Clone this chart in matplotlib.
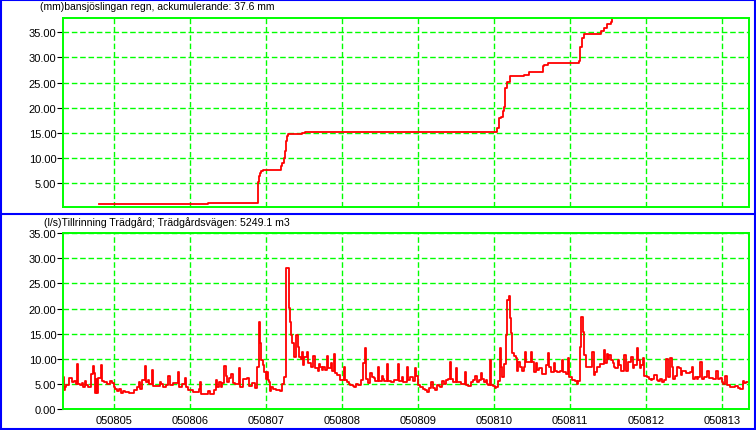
import matplotlib
matplotlib.use("Agg")
import matplotlib.pyplot as plt
from matplotlib.lines import Line2D

plt.rcParams['font.family'] = ['Liberation Sans', 'DejaVu Sans']
plt.rcParams['font.size'] = 8

# ---- data (time in hours since 050804 00:00) ----
rain_title = "(mm)bansjöslingan regn, ackumulerande: 37.6 mm"
flow_title = "(l/s)Tillrinning Trädgård; Trädgårdsvägen: 5249.1 m3"

rain_t = [19.2, 53.6, 69.5, 69.8, 70.0, 70.4, 71.0, 76.6, 77.2, 77.6, 77.9, 78.2,
          78.5, 78.9, 83.5, 84.2, 144.8, 145.6, 146.3, 146.7, 147.1, 147.4, 147.6,
          148.0, 148.9, 153.5, 155.1, 159.5, 159.8, 161.1, 170.7, 171.1, 171.7,
          171.9, 172.3, 177.7, 178.6, 179.6, 180.8, 181.2]
rain_v = [0.8, 1.0, 5.2, 6.3, 7.0, 7.4, 7.6, 8.4, 8.9, 10.0, 11.4, 13.3,
          14.3, 14.8, 15.0, 15.2, 15.9, 17.9, 18.1, 19.3, 20.2, 22.6, 23.9,
          25.2, 26.3, 26.5, 27.2, 28.2, 28.5, 28.8, 29.2, 32.0, 33.0,
          33.9, 34.6, 35.3, 35.9, 36.6, 37.1, 37.6]

flow_t = [8.0, 8.3, 8.5, 8.85, 9.8, 10.85, 11.48, 11.9, 12.32, 12.74, 13.27, 13.8,
          14.11, 14.85, 15.06, 15.9, 16.75, 17.27, 17.8, 18.12, 18.43, 18.75, 19.06,
          19.9, 20.32, 20.96, 21.91, 22.75, 23.27, 24.01, 24.33, 24.96, 25.7, 26.22,
          26.75, 27.49, 28.75, 30.43, 31.28, 32.01, 32.22, 32.96, 33.8, 34.23, 34.75,
          35.07, 35.91, 36.33, 37.49, 38.54, 38.86, 39.39, 40.44, 41.18, 41.81, 42.76,
          43.6, 44.12, 44.55, 45.39, 46.44, 46.86, 47.49, 48.86, 50.86, 51.07,
          51.38, 51.59, 53.69, 54.22, 55.59, 56.33, 56.64, 57.17, 57.9, 58.22, 58.75,
          59.27, 59.69, 60.33, 60.96, 61.59, 62.22, 63.48, 63.91, 64.75, 66.12, 66.64,
          67.7, 68.64, 69.28, 69.8, 70.12, 70.54, 70.96, 71.38, 71.91, 72.22, 72.54,
          72.86, 73.17, 73.7, 74.23, 75.28, 76.33, 77.17, 77.59, 78.23, 78.44, 79.28,
          79.7, 80.02, 80.33, 80.75, 81.59, 82.02, 82.33, 82.97, 83.28, 83.7, 84.02,
          84.97, 85.28, 86.12, 86.86, 87.39, 88.44, 88.65, 88.97, 89.6, 90.02, 90.65,
          91.28, 91.7, 92.44, 92.86, 93.49, 93.91, 94.55,
          95.49, 96.55, 96.97, 97.6, 98.12, 98.65, 99.39, 99.91, 100.44, 101.18,
          102.02, 102.65, 103.18, 103.71, 104.13, 104.86, 105.49, 106.02, 106.44,
          107.29, 107.81, 108.55, 108.87, 109.39, 110.13, 110.66, 111.5, 112.34,
          113.6, 114.13, 114.97, 115.39, 116.45, 116.97, 117.61, 118.45, 119.08,
          119.5, 120.03, 120.66, 121.5, 122.24, 122.87, 123.5, 124.24, 124.66,
          125.29, 126.03, 126.56, 127.08, 127.61, 128.14, 128.87, 129.4, 130.03,
          130.45, 130.98, 131.93, 132.35, 133.61, 134.77, 135.19, 135.93, 136.77,
          137.3, 138.14, 138.56,
          139.28, 139.81, 140.34, 140.86, 141.6, 141.92, 142.23, 142.76, 143.18,
          143.71, 144.34, 144.76, 145.39, 145.92, 146.34, 146.65, 147.18, 147.71,
          148.02, 148.65, 149.18, 149.5, 149.81, 150.34, 150.86, 151.18, 151.6,
          152.23, 152.76, 153.39, 153.81, 154.23, 155.6, 156.13, 156.66, 157.18,
          157.71, 158.24, 159.29, 160.55, 160.97, 161.4, 161.92, 162.87, 163.29,
          164.03, 164.76, 165.4, 165.82, 166.66, 167.4, 167.82, 168.24, 168.76,
          169.61, 170.14, 170.66, 171.08, 171.5, 172.03, 172.45, 172.98, 174.98,
          175.4, 175.93, 176.66, 177.4, 178.56, 178.98, 179.51, 179.93, 180.35,
          180.98, 181.4, 181.93,
          182.22, 183.07, 183.59, 184.12, 185.17, 185.7, 186.22, 187.28, 187.8,
          188.33, 189.07, 189.59, 190.12, 190.44, 190.96, 191.38, 192.23, 192.96,
          193.49, 194.02, 194.65, 195.39, 195.91, 196.44, 196.97, 197.7, 198.33,
          198.86, 199.6, 200.12, 200.65, 201.18, 201.7, 202.44, 203.07, 203.49,
          204.55, 205.92, 206.44, 206.97, 207.49, 208.02, 208.55, 209.07, 209.6,
          210.13, 211.18, 211.92, 213.08, 214.13, 214.55, 215.39, 215.92, 216.44,
          216.97, 217.5, 218.55, 219.08, 220.13, 220.97, 221.71, 222.55, 222.97,
          223.5, 224.13]
flow_v = [6.4, 3.9, 4.4, 4.9, 6.2, 5.4, 5.7, 5.1, 8.9, 5.1, 4.9, 5.3,
          4.5, 5.6, 4.9, 4.4, 7.1, 8.6, 7.3, 3.2, 6.1, 3.2, 6.2,
          8.7, 5.6, 5.4, 5.1, 5.6, 5.3, 4.4, 4.1, 3.7, 4.1, 3.2,
          3.7, 3.5, 3.2, 3.9, 4.4, 5.4, 4.1, 5.9, 8.6, 5.4, 5.9,
          5.1, 7.9, 4.7, 4.6, 5.5, 5.1, 4.4, 4.9, 6.6, 4.9, 5.3,
          5.2, 7.4, 4.4, 5.1, 6.2, 4.5, 3.9, 3.4, 4.1, 5.5,
          3.2, 3.1, 3.6, 3.1, 3.9, 5.9, 4.5, 5.4, 4.5, 5.3, 8.6,
          6.7, 5.4, 6.2, 7.1, 5.2, 5.1, 8.2, 4.5, 6.1, 6.2, 4.7,
          5.2, 4.2, 8.4, 17.4, 13.1, 9.7, 8.7, 7.4, 6.1, 7.4, 5.9,
          5.4, 3.7, 4.4, 4.1, 3.9, 3.7, 5.1, 6.4, 10.7, 28.1, 20.1,
          17.4, 14.7, 13.1, 10.4, 14.7, 12.4, 10.4, 9.9, 11.3, 8.7, 10.4,
          11.4, 9.1, 8.4, 10.5, 8.1, 7.7, 8.9, 8.4, 7.9, 8.4, 7.9,
          10.5, 8.1, 9.2, 7.7, 10.9, 7.3, 6.9,
          5.9, 8.4, 5.9, 5.4, 5.1, 4.9, 4.7, 4.4, 5.1, 4.9,
          5.9, 9.2, 12.1, 6.1, 5.2, 7.2, 6.5, 6.2, 5.7,
          8.4, 5.7, 6.6, 6.1, 5.7, 8.9, 5.7, 5.4, 5.9,
          8.9, 5.7, 6.4, 5.5, 8.4, 5.9, 6.4, 5.7, 8.2,
          6.7, 4.9, 4.4, 4.1, 3.9, 3.5, 4.2, 5.5, 4.2,
          3.9, 4.9, 4.7, 4.4, 5.7, 5.1, 5.9, 6.1, 9.3,
          6.1, 5.5, 8.1, 5.5, 5.1, 7.5, 4.9, 4.7, 5.4,
          5.9, 6.7, 5.5,
          5.9, 7.2, 6.1, 5.4, 5.9, 5.1, 4.9, 9.7, 4.9,
          4.6, 4.2, 4.4, 5.7, 12.1, 8.4, 6.5, 8.9, 14.7,
          21.7, 22.4, 18.1, 15.1, 11.1, 10.5, 10.1, 7.7, 9.4,
          8.4, 7.7, 8.4, 11.4, 9.3, 11.3, 9.3, 7.4, 9.1,
          7.9, 8.1, 7.1, 8.7, 11.1, 8.4, 7.4, 9.2, 7.7,
          7.4, 7.7, 9.7, 7.4, 7.1, 10.1, 6.5, 6.4, 5.9,
          5.7, 5.1, 5.7, 12.4, 18.4, 15.4, 10.7, 8.4, 11.4,
          6.9, 7.4, 8.4, 8.9, 11.7, 9.1, 10.9, 9.9, 10.7,
          9.7, 9.1, 8.4,
          8.2, 9.7, 8.7, 7.7, 10.7, 7.7, 9.4, 10.3, 8.1,
          8.7, 12.1, 9.7, 8.1, 8.7, 10.1, 6.7, 6.5, 6.1,
          5.9, 6.1, 6.9, 5.9, 5.7, 6.1, 5.5, 5.9, 9.9,
          6.4, 10.1, 8.4, 6.1, 6.7, 8.4, 8.1, 6.9, 7.7,
          7.2, 7.4, 8.4, 6.1, 6.4, 6.1, 6.4, 9.4, 6.1,
          6.5, 7.7, 6.3, 6.1, 7.6, 6.1, 6.3, 5.4, 5.1,
          6.7, 4.9, 4.5, 4.4, 4.6, 4.2, 4.1, 5.6, 5.2,
          5.4, 5.4]

day_labels = ["050805", "050806", "050807", "050808", "050809",
              "050810", "050811", "050812", "050813"]
day_hours = [24, 48, 72, 96, 120, 144, 168, 192, 216]

rain_ticks = [5, 10, 15, 20, 25, 30, 35]
flow_ticks = [0, 5, 10, 15, 20, 25, 30, 35]

# ---- figure ----
W, H = 756, 431
fig = plt.figure(figsize=(W / 100, H / 100), dpi=100)

GREEN = '#00ff00'
RED = '#ff0000'
BLUE = '#0000ff'
XLIM = (8.0, 224.4)


def style_axes(ax, yticks, ylim):
    ax.set_xlim(*XLIM)
    ax.set_ylim(*ylim)
    ax.set_yticks(yticks)
    ax.set_yticklabels([f"{v:.2f}" for v in yticks])
    ax.set_xticks(day_hours)
    for s in ax.spines.values():
        s.set_color(GREEN)
        s.set_linewidth(1.4)
    ax.grid(True, color=GREEN, linestyle=(0, (4, 2)), linewidth=1.0)
    ax.tick_params(axis='y', length=4, width=0.8, color='black', pad=1,
                   labelsize=8)
    ax.tick_params(axis='x', length=0, pad=4, labelsize=8)
    ax.set_axisbelow(True)


def fx(px):
    return px / W


def fy(py):
    return 1 - py / H


ax1 = fig.add_axes([fx(63.3), fy(208.3), fx(748.7) - fx(63.3), fy(19.3) - fy(208.3)])
ax1.plot(rain_t, rain_v, drawstyle='steps-post', color=RED, linewidth=1.3)
style_axes(ax1, rain_ticks, (0.15, 37.8))
ax1.set_xticklabels([])

ax2 = fig.add_axes([fx(63.3), fy(410.3), fx(748.7) - fx(63.3), fy(234.0) - fy(410.3)])
ax2.plot(flow_t, flow_v, drawstyle='steps-post', color=RED, linewidth=1.3)
style_axes(ax2, flow_ticks, (0, 35))
ax2.set_xticklabels(day_labels)

fig.text(fx(40), fy(7.5), rain_title, ha='left', va='center', fontsize=7.5)
fig.text(fx(44), fy(223), flow_title, ha='left', va='center', fontsize=7.6)

# blue panel frames
lw = 1.5
for (x0, y0, x1, y1) in [(1, 1, 755, 1), (1, 1, 1, 430), (755, 1, 755, 430),
                         (1, 214.5, 755, 214.5), (1, 430, 755, 430)]:
    fig.add_artist(Line2D([fx(x0), fx(x1)], [fy(y0), fy(y1)], color=BLUE,
                          linewidth=lw, transform=fig.transFigure))

fig.savefig("out.png", dpi=100)
